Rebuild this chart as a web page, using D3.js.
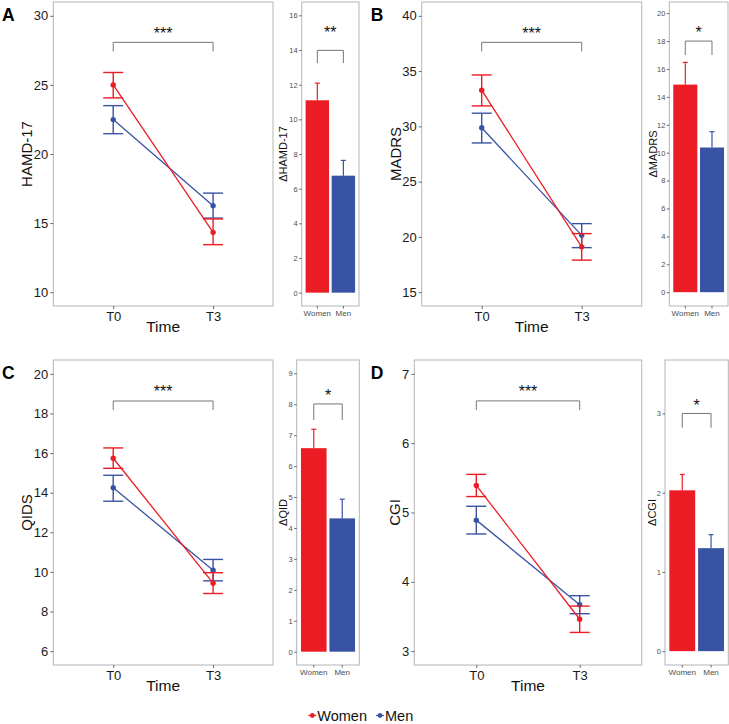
<!DOCTYPE html>
<html><head><meta charset="utf-8">
<script src="https://cdn.jsdelivr.net/npm/d3@7"></script>
<style>
body{margin:0;background:#fff;}
svg text{font-family:Arial,"Liberation Sans",Helvetica,sans-serif;}
</style>
</head><body>
<svg id="chart" width="729" height="724"></svg>
<script>
// ---------- DATA ----------
const timeLabels = ["T0", "T3"];
const groupLabels = ["Women", "Men"];

// HAMD-17 (T0, T3): mean, lower and upper error bar
const hamdWomenMean = [25.0, 14.33];
const hamdWomenLow  = [24.06, 13.44];
const hamdWomenHigh = [25.9, 15.3];
const hamdMenMean   = [22.49, 16.25];
const hamdMenLow    = [21.47, 15.36];
const hamdMenHigh   = [23.5, 17.17];

// MADRS
const madrsWomenMean = [33.27, 19.1];
const madrsWomenLow  = [31.85, 17.9];
const madrsWomenHigh = [34.65, 20.3];
const madrsMenMean   = [29.87, 20.14];
const madrsMenLow    = [28.5, 19.03];
const madrsMenHigh   = [31.19, 21.2];

// QIDS
const qidsWomenMean = [15.74, 9.43];
const qidsWomenLow  = [15.23, 8.91];
const qidsWomenHigh = [16.26, 9.96];
const qidsMenMean   = [14.25, 10.09];
const qidsMenLow    = [13.57, 9.55];
const qidsMenHigh   = [14.88, 10.63];

// CGI
const cgiWomenMean = [5.39, 3.46];
const cgiWomenLow  = [5.23, 3.27];
const cgiWomenHigh = [5.55, 3.65];
const cgiMenMean   = [4.89, 3.67];
const cgiMenLow    = [4.69, 3.54];
const cgiMenHigh   = [5.09, 3.80];

// Change scores (Women, Men): value and upper error bar
const deltaHamd      = [11.1, 6.75];
const deltaHamdHigh  = [12.09, 7.63];
const deltaMadrs     = [14.88, 10.37];
const deltaMadrsHigh = [16.47, 11.5];
const deltaQid       = [6.58, 4.31];
const deltaQidHigh   = [7.19, 4.93];
const deltaCgi       = [2.03, 1.30];
const deltaCgiHigh   = [2.23, 1.47];

// Axis ticks
const hamdTicks  = [10, 15, 20, 25, 30];
const madrsTicks = [15, 20, 25, 30, 35, 40];
const qidsTicks  = [6, 8, 10, 12, 14, 16, 18, 20];
const cgiTicks   = [3, 4, 5, 6, 7];
const deltaHamdTicks  = [0, 2, 4, 6, 8, 10, 12, 14, 16];
const deltaMadrsTicks = [0, 2, 4, 6, 8, 10, 12, 14, 16, 18, 20];
const deltaQidTicks   = [0, 1, 2, 3, 4, 5, 6, 7, 8, 9];
const deltaCgiTicks   = [0, 1, 2, 3];

// Significance annotations (data units)
const lineSigLabels  = ["***", "***", "***", "***"];
const lineBracketTop = [28.08, 37.6, 18.63, 6.61];
const lineBracketTip = [27.42, 36.78, 18.17, 6.48];
const lineSigY       = [28.95, 38.75, 19.28, 6.79];
const barSigLabels   = ["**", "*", "*", "*"];
const barBracketTop  = [13.98, 18.0, 8.01, 3.0];
const barBracketTip  = [13.25, 17.0, 7.49, 2.82];
const barSigY        = [15.2, 18.86, 8.41, 3.15];

// ---------- LAYOUT / STYLE ----------
const RED = "#EC1C24", BLUE = "#3953A4";
const BORDER = "#b5b5b5";
const svg = d3.select("#chart");

const linePanels = [
  {letter:"A", x0:53.3, x1:273, y0:2, y1:306, dom:[9,31], ticks:hamdTicks, title:"HAMD-17", titleX:32.3, letterX:8.3, letterY:20.7,
   women:[hamdWomenMean,hamdWomenLow,hamdWomenHigh], men:[hamdMenMean,hamdMenLow,hamdMenHigh]},
  {letter:"B", x0:421.7, x1:641.7, y0:2, y1:306, dom:[13.75,41.25], ticks:madrsTicks, title:"MADRS", titleX:400.7, letterX:377, letterY:20.7,
   women:[madrsWomenMean,madrsWomenLow,madrsWomenHigh], men:[madrsMenMean,madrsMenLow,madrsMenHigh]},
  {letter:"C", x0:53.3, x1:273, y0:360, y1:665, dom:[5.3,20.7], ticks:qidsTicks, title:"QIDS", titleX:31.7, letterX:8.3, letterY:379,
   women:[qidsWomenMean,qidsWomenLow,qidsWomenHigh], men:[qidsMenMean,qidsMenLow,qidsMenHigh]},
  {letter:"D", x0:414.3, x1:641.7, y0:360, y1:665, dom:[2.8,7.2], ticks:cgiTicks, title:"CGI", titleX:400, letterX:377, letterY:379,
   women:[cgiWomenMean,cgiWomenLow,cgiWomenHigh], men:[cgiMenMean,cgiMenLow,cgiMenHigh]}
];

const barPanels = [
  {x0:301.7, x1:359, y0:2, y1:306, dom:[-0.77,16.77], ticks:deltaHamdTicks, title:"\u0394HAMD-17", titleX:287.3, vals:deltaHamd, highs:deltaHamdHigh},
  {x0:669.3, x1:728, y0:2, y1:306, dom:[-0.99,20.8], ticks:deltaMadrsTicks, title:"\u0394MADRS", titleX:656.7, vals:deltaMadrs, highs:deltaMadrsHigh},
  {x0:296.7, x1:359.3, y0:360, y1:665, dom:[-0.43,9.43], ticks:deltaQidTicks, title:"\u0394QID", titleX:286.7, vals:deltaQid, highs:deltaQidHigh},
  {x0:665, x1:728.3, y0:360, y1:665, dom:[-0.175,3.675], ticks:deltaCgiTicks, title:"\u0394CGI", titleX:656, vals:deltaCgi, highs:deltaCgiHigh}
];

function styleAxis(g, fontSize, color) {
  g.select(".domain").remove();
  g.selectAll(".tick line").attr("stroke", "#444").attr("stroke-width", 0.8);
  g.selectAll(".tick text").attr("fill", color).attr("font-size", fontSize).attr("font-family", "Arial, 'Liberation Sans', sans-serif");
}

linePanels.forEach((p, i) => {
  const g = svg.append("g");
  g.append("rect").attr("x", p.x0).attr("y", p.y0).attr("width", p.x1 - p.x0).attr("height", p.y1 - p.y0)
    .attr("fill", "#fff").attr("stroke", BORDER).attr("stroke-width", 1);
  const y = d3.scaleLinear().domain(p.dom).range([p.y1, p.y0]);
  const x = d3.scalePoint().domain(timeLabels).range([p.x0, p.x1]).padding(0.6);

  const ay = g.append("g").attr("transform", `translate(${p.x0},0)`)
    .call(d3.axisLeft(y).tickValues(p.ticks).tickSize(3).tickPadding(2).tickFormat(d3.format("d")));
  styleAxis(ay, "13px", "#1a1a1a");
  const ax = g.append("g").attr("transform", `translate(0,${p.y1})`)
    .call(d3.axisBottom(x).tickSize(3).tickPadding(2.5));
  styleAxis(ax, "13px", "#1a1a1a");

  g.append("text").attr("x", (p.x0 + p.x1) / 2).attr("y", p.y1 + 25.5).attr("text-anchor", "middle")
    .attr("font-size", "15.5px").attr("fill", "#111").text("Time");
  g.append("text").attr("transform", `translate(${p.titleX},${(p.y0 + p.y1) / 2}) rotate(-90)`)
    .attr("text-anchor", "middle").attr("font-size", "15px").attr("fill", "#111").text(p.title);
  g.append("text").attr("x", p.letterX).attr("y", p.letterY).attr("text-anchor", "middle")
    .attr("font-size", "17.5px").attr("font-weight", "bold").attr("fill", "#000").text(p.letter);

  // significance bracket
  const bx0 = x(timeLabels[0]), bx1 = x(timeLabels[1]);
  g.append("path").attr("d", `M${bx0},${y(lineBracketTip[i])}V${y(lineBracketTop[i])}H${bx1}V${y(lineBracketTip[i])}`)
    .attr("fill", "none").attr("stroke", "#777").attr("stroke-width", 1);
  g.append("text").attr("x", (bx0 + bx1) / 2).attr("y", y(lineSigY[i]) + 9).attr("text-anchor", "middle")
    .attr("font-size", "16px").attr("fill", "#111").text(lineSigLabels[i]);

  const series = [{d: p.men, c: BLUE}, {d: p.women, c: RED}];
  series.forEach(s => {
    const [mean, low, high] = s.d;
    timeLabels.forEach((t, k) => {
      const cx = x(t);
      g.append("line").attr("x1", cx).attr("x2", cx).attr("y1", y(low[k])).attr("y2", y(high[k]))
        .attr("stroke", s.c).attr("stroke-width", 1.4);
      [low[k], high[k]].forEach(v => {
        g.append("line").attr("x1", cx - 10).attr("x2", cx + 10).attr("y1", y(v)).attr("y2", y(v))
          .attr("stroke", s.c).attr("stroke-width", 1.4);
      });
    });
    g.append("path").datum(mean)
      .attr("d", d3.line().x((v, k) => x(timeLabels[k])).y(v => y(v)))
      .attr("fill", "none").attr("stroke", s.c).attr("stroke-width", 1.3);
    g.selectAll(null).data(mean).enter().append("circle")
      .attr("cx", (v, k) => x(timeLabels[k])).attr("cy", v => y(v)).attr("r", 2.7).attr("fill", s.c);
  });
});

barPanels.forEach((p, i) => {
  const g = svg.append("g");
  g.append("rect").attr("x", p.x0).attr("y", p.y0).attr("width", p.x1 - p.x0).attr("height", p.y1 - p.y0)
    .attr("fill", "#fff").attr("stroke", BORDER).attr("stroke-width", 1);
  const y = d3.scaleLinear().domain(p.dom).range([p.y1, p.y0]);
  const x = d3.scaleBand().domain(groupLabels).range([p.x0, p.x1]).paddingInner(0.1).paddingOuter(0.15);
  const colors = [RED, BLUE];

  const ay = g.append("g").attr("transform", `translate(${p.x0},0)`)
    .call(d3.axisLeft(y).tickValues(p.ticks).tickSize(2.5).tickPadding(1.5).tickFormat(d3.format("d")));
  styleAxis(ay, "7.5px", "#4d4d4d");
  const ax = g.append("g").attr("transform", `translate(0,${p.y1})`)
    .call(d3.axisBottom(x).tickSize(2.5).tickPadding(1.5));
  styleAxis(ax, "8px", "#4d4d4d");

  g.append("text").attr("transform", `translate(${p.titleX},${(p.y0 + p.y1) / 2}) rotate(-90)`)
    .attr("text-anchor", "middle").attr("font-size", "11px").attr("fill", "#111").text(p.title);

  groupLabels.forEach((gr, k) => {
    g.append("rect").attr("x", x(gr)).attr("width", x.bandwidth())
      .attr("y", y(p.vals[k])).attr("height", y(0) - y(p.vals[k])).attr("fill", colors[k]);
    const cx = x(gr) + x.bandwidth() / 2;
    g.append("line").attr("x1", cx).attr("x2", cx).attr("y1", y(p.vals[k])).attr("y2", y(p.highs[k]))
      .attr("stroke", colors[k]).attr("stroke-width", 1.2);
    g.append("line").attr("x1", cx - 2.5).attr("x2", cx + 2.5).attr("y1", y(p.highs[k])).attr("y2", y(p.highs[k]))
      .attr("stroke", colors[k]).attr("stroke-width", 1.2);
  });

  const bx0 = x(groupLabels[0]) + x.bandwidth() / 2, bx1 = x(groupLabels[1]) + x.bandwidth() / 2;
  g.append("path").attr("d", `M${bx0},${y(barBracketTip[i])}V${y(barBracketTop[i])}H${bx1}V${y(barBracketTip[i])}`)
    .attr("fill", "none").attr("stroke", "#777").attr("stroke-width", 1);
  g.append("text").attr("x", (bx0 + bx1) / 2).attr("y", y(barSigY[i]) + 9).attr("text-anchor", "middle")
    .attr("font-size", "16px").attr("fill", "#111").text(barSigLabels[i]);
});

// Legend
const legend = svg.append("g");
const legendItems = [{label: groupLabels[0], c: RED, x: 312.3}, {label: groupLabels[1], c: BLUE, x: 380}];
legendItems.forEach(it => {
  legend.append("line").attr("x1", it.x - 4).attr("x2", it.x + 4).attr("y1", 715.5).attr("y2", 715.5)
    .attr("stroke", it.c).attr("stroke-width", 1.2);
  legend.append("circle").attr("cx", it.x).attr("cy", 715.5).attr("r", 2.4).attr("fill", it.c);
  legend.append("text").attr("x", it.x + 5).attr("y", 720.5).attr("font-size", "14.5px").attr("fill", "#111").text(it.label);
});
</script>
</body></html>
